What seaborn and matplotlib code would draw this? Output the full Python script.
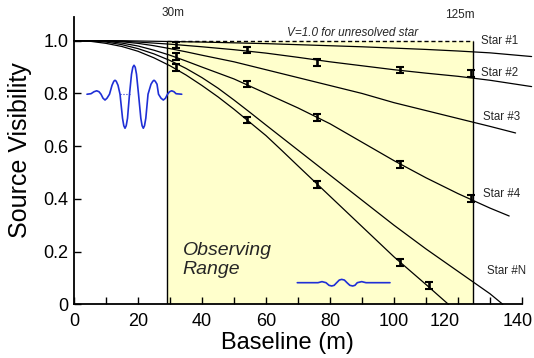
import numpy as np
import pandas as pd
import matplotlib
matplotlib.use("Agg")
import matplotlib.pyplot as plt
import matplotlib.transforms as mtransforms
import seaborn as sns

# visibility curves
baseline = [0, 5, 10, 15, 20, 25, 30, 35, 40, 50, 60, 70, 80, 90, 100, 110, 120, 130, 143]
star1 = [1.0, 1.0, 1.0, 1.0, 0.999, 0.998, 0.997, 0.996, 0.995, 0.992, 0.989, 0.985, 0.981,
         0.977, 0.972, 0.967, 0.961, 0.954, 0.94]
star2 = [1.0, 1.0, 1.0, 0.998, 0.995, 0.991, 0.987, 0.982, 0.977, 0.966, 0.953, 0.937, 0.92,
         0.905, 0.89, 0.877, 0.865, 0.85, 0.826]

baseline3 = [0, 5, 10, 15, 20, 25, 30, 35, 40, 50, 60, 70, 80, 90, 100, 110, 120, 130, 138]
star3 = [1.0, 1.0, 0.999, 0.996, 0.99, 0.981, 0.97, 0.958, 0.945, 0.92, 0.89, 0.86, 0.83,
         0.80, 0.765, 0.735, 0.705, 0.675, 0.65]

baseline4 = [0, 5, 10, 15, 20, 25, 30, 35, 40, 50, 60, 70, 80, 90, 100, 110, 120, 130, 136]
star4 = [1.0, 1.0, 0.998, 0.991, 0.98, 0.964, 0.945, 0.923, 0.90, 0.855, 0.80, 0.745, 0.685,
         0.615, 0.545, 0.48, 0.42, 0.365, 0.335]

baseline5 = [0, 5, 10, 15, 20, 25, 30, 35, 40, 45, 50, 55, 60, 70, 80, 90, 100, 110, 120, 130, 134]
star5 = [1.0, 0.999, 0.995, 0.985, 0.97, 0.95, 0.925, 0.895, 0.86, 0.82, 0.775, 0.728, 0.68,
         0.585, 0.49, 0.395, 0.30, 0.21, 0.125, 0.04, 0.0]

baselineN = [0, 5, 10, 15, 20, 25, 30, 35, 40, 45, 50, 55, 60, 65, 70, 80, 90, 100, 110, 117]
starN = [1.0, 0.998, 0.99, 0.978, 0.96, 0.935, 0.905, 0.87, 0.83, 0.787, 0.74, 0.69, 0.64,
         0.583, 0.525, 0.41, 0.295, 0.18, 0.075, 0.0]

# measured points with error bars
meas_b = [32, 32, 32, 54, 54, 54, 76, 76, 76, 102, 102, 102, 111, 124, 124]
meas_v = [0.984, 0.939, 0.897, 0.965, 0.836, 0.699, 0.919, 0.710, 0.456,
          0.889, 0.532, 0.16, 0.07, 0.877, 0.40]
meas_err = 0.013

# fringe sketches (blue wiggles)
fringe1_b = [4.06, 5.31, 6.25, 7.09, 7.81, 8.44, 9.06, 9.69, 10.31, 11.09, 11.88, 12.44, 12.81,
             13.19, 13.75, 14.38, 15.16, 15.56, 15.94, 16.31, 16.72, 17.34, 17.97, 18.38, 18.75,
             19.13, 19.53, 20.16, 20.88, 21.28, 21.66, 22.03, 22.44, 23.13, 24.06, 24.63, 25.0,
             25.38, 25.94, 26.41, 27.19, 27.91, 28.59, 29.22, 29.84, 30.53, 31.25, 31.88, 33.66]
fringe1_v = [0.797, 0.799, 0.8065, 0.810, 0.8065, 0.797, 0.782, 0.775, 0.782, 0.797, 0.831, 0.8463,
             0.850, 0.8463, 0.831, 0.797, 0.706, 0.6775, 0.668, 0.6775, 0.706, 0.797, 0.873, 0.8995,
             0.907, 0.8995, 0.873, 0.797, 0.706, 0.6775, 0.668, 0.6775, 0.706, 0.797, 0.835, 0.8463,
             0.850, 0.8463, 0.835, 0.797, 0.782, 0.775, 0.782, 0.797, 0.8065, 0.810, 0.8065, 0.799,
             0.797]
fringe2_b = [69.78, 76.25, 77.5, 78.75, 79.7, 80.53, 81.3, 82.09, 82.9, 83.66, 84.5, 85.31,
             86.2, 87.09, 87.8, 88.53, 89.91, 91.25, 98.75]
fringe2_v = [0.082, 0.082, 0.086, 0.082, 0.072, 0.0695, 0.072, 0.082, 0.092, 0.0945, 0.092, 0.082,
             0.072, 0.0695, 0.072, 0.082, 0.086, 0.082, 0.082]

obs_range = (29.2, 124.8)

labels = ["Star #1", "Star #2", "Star #3", "Star #4", "Star #N"]
label_b = [127.1, 127.1, 127.7, 127.9, 129.0]
label_v = [1.0, 0.879, 0.712, 0.419, 0.128]

curves = pd.concat([
    pd.DataFrame({"star": "1", "b": baseline, "v": star1}),
    pd.DataFrame({"star": "2", "b": baseline, "v": star2}),
    pd.DataFrame({"star": "3", "b": baseline3, "v": star3}),
    pd.DataFrame({"star": "4", "b": baseline4, "v": star4}),
    pd.DataFrame({"star": "5", "b": baseline5, "v": star5}),
    pd.DataFrame({"star": "N", "b": baselineN, "v": starN}),
])

sns.set_theme(style="ticks")
plt.rcParams["font.family"] = ["Liberation Sans", "DejaVu Sans"]

fig = plt.figure(figsize=(5.34, 3.58), dpi=100)
ax = fig.add_axes([0.1386, 0.15, 0.8389, 0.8025])

# observing range box
ax.axvspan(obs_range[0], obs_range[1], ymin=0, ymax=1.0 / 1.09, color="#ffffcc", lw=0, zorder=0)
ax.vlines(obs_range, 0, 1.0, color="black", lw=1.0, zorder=1)
ax.hlines(1.0, obs_range[0], obs_range[1], color="black", lw=1.0, linestyles=(0, (3, 2)), zorder=2)

sns.lineplot(data=curves, x="b", y="v", units="star", estimator=None, color="black",
             lw=0.9, ax=ax, clip_on=False, zorder=3)

ax.errorbar(meas_b, meas_v, yerr=meas_err, fmt="none", ecolor="black",
            elinewidth=1.9, capsize=2.6, capthick=1.5, zorder=4)

ax.plot(fringe1_b, fringe1_v, color="#1f2fd6", lw=1.2, zorder=5)
ax.plot([14.4, 17.5], [0.797, 0.797], color="#1f2fd6", lw=0.8, ls=":", zorder=5)
ax.plot(fringe2_b, fringe2_v, color="#1f2fd6", lw=1.2, zorder=5)

for t, xb, yv in zip(labels, label_b, label_v):
    ax.text(xb, yv, t, fontsize=8.3, va="center", ha="left", clip_on=False)

ax.text(30.8, 1.107, "30m", fontsize=8.5, ha="center", va="center", clip_on=False)
ax.text(120.7, 1.098, "125m", fontsize=8.5, ha="center", va="center", clip_on=False)
ax.text(66.6, 1.031, "V=1.0 for unresolved star", fontsize=8.5, style="italic",
        ha="left", va="center")
ax.text(34.0, 0.168, "Observing\nRange", fontsize=14, style="italic", ha="left",
        va="center", linespacing=1.1)

ax.set_xlim(0, 140)
ax.set_ylim(0, 1.09)
ax.set_xticks(range(0, 141, 20))
ax.set_xticks(range(10, 141, 20), minor=True)
ax.set_yticks([0, 0.2, 0.4, 0.6, 0.8, 1.0])
ax.set_yticklabels(["0", "0.2", "0.4", "0.6", "0.8", "1.0"])
ax.tick_params(axis="both", which="both", direction="in", length=5, width=1,
               color="black", labelsize=13, labelcolor="black")
ax.tick_params(axis="x", pad=6)
ax.tick_params(axis="y", pad=4)

# the last two x labels sit a little left of their ticks in the original
for tk, dx in zip(ax.xaxis.get_major_ticks()[-2:], [-13, -4]):
    tk.label1.set_transform(tk.label1.get_transform()
                            + mtransforms.ScaledTranslation(dx / 100, 0, fig.dpi_scale_trans))

sns.despine(ax=ax)
for s in ["left", "bottom"]:
    ax.spines[s].set_color("black")
    ax.spines[s].set_linewidth(1.3)

ax.set_xlabel("Baseline (m)", fontsize=17, color="black")
ax.set_ylabel("Source Visibility", fontsize=18, color="black")
ax.xaxis.set_label_coords(0.477, -0.095)
ax.yaxis.set_label_coords(-0.094, 0.537)
ax.grid(False)

fig.savefig("out.png", dpi=100, facecolor="white")
